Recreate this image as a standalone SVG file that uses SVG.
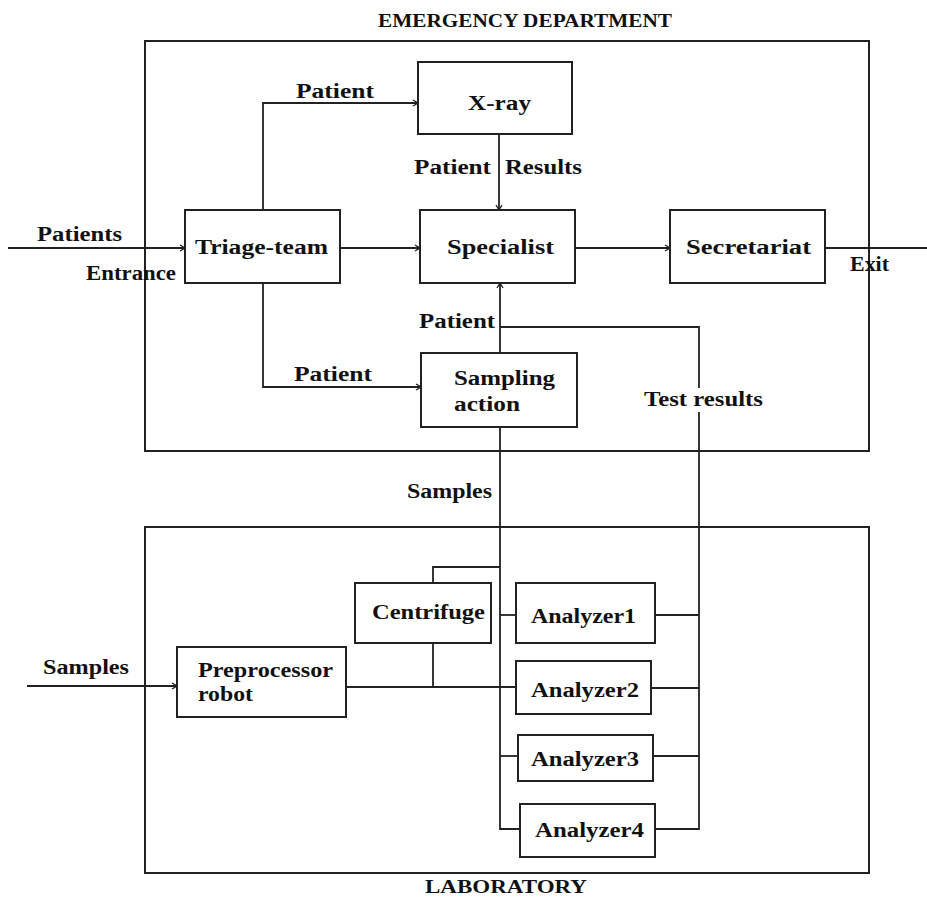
<svg xmlns="http://www.w3.org/2000/svg" width="927" height="897" viewBox="0 0 927 897">
<style>
.box{fill:#fff;stroke:#222;stroke-width:2}
.frame{fill:none;stroke:#222;stroke-width:2}
.ln{fill:none;stroke:#222;stroke-width:1.8}
text{font-family:"Liberation Serif","Times New Roman",serif;font-weight:bold;font-size:20px;fill:#111}
.hd{font-size:18.5px}
</style>
<defs>
<marker id="arr" markerWidth="8" markerHeight="8" refX="6" refY="4" orient="auto" markerUnits="userSpaceOnUse">
<path d="M1,1 L6,4 L1,7" fill="none" stroke="#222" stroke-width="1.4"/>
</marker>
</defs>
<rect width="927" height="897" fill="#fff"/>

<g id="ed-frame">
<rect class="frame" x="145" y="41" width="724" height="410"/>
<text class="hd" x="378" y="27" textLength="294" lengthAdjust="spacingAndGlyphs">EMERGENCY DEPARTMENT</text>
</g>
<g id="lab-frame">
<rect class="frame" x="145" y="527" width="724" height="346"/>
<text class="hd" x="425" y="893" textLength="162" lengthAdjust="spacingAndGlyphs">LABORATORY</text>
</g>

<g id="connectors">
<line class="ln" x1="8" y1="248" x2="185" y2="248" marker-end="url(#arr)"/>
<line class="ln" x1="340" y1="248" x2="420" y2="248" marker-end="url(#arr)"/>
<line class="ln" x1="575" y1="248" x2="670" y2="248" marker-end="url(#arr)"/>
<line class="ln" x1="825" y1="248" x2="927" y2="248"/>
<polyline class="ln" points="263,210 263,103 418,103" marker-end="url(#arr)"/>
<line class="ln" x1="499" y1="134" x2="499" y2="210" marker-end="url(#arr)"/>
<polyline class="ln" points="263,283 263,387 421,387" marker-end="url(#arr)"/>
<line class="ln" x1="500" y1="353" x2="500" y2="283" marker-end="url(#arr)"/>
<polyline class="ln" points="500,327 699,327 699,829 655,829"/>
<polyline class="ln" points="500,427 500,829 520,829"/>
<line class="ln" x1="655" y1="615" x2="699" y2="615"/>
<line class="ln" x1="651" y1="688" x2="699" y2="688"/>
<line class="ln" x1="653" y1="756" x2="699" y2="756"/>
<line class="ln" x1="500" y1="615" x2="516" y2="615"/>
<line class="ln" x1="500" y1="756" x2="518" y2="756"/>
<polyline class="ln" points="433,583 433,567 500,567"/>
<line class="ln" x1="433" y1="643" x2="433" y2="687"/>
<line class="ln" x1="346" y1="687" x2="516" y2="687"/>
<line class="ln" x1="27" y1="686" x2="177" y2="686" marker-end="url(#arr)"/>
<text x="296" y="98" textLength="78" lengthAdjust="spacingAndGlyphs">Patient</text>
<text x="414" y="174" textLength="77" lengthAdjust="spacingAndGlyphs">Patient</text>
<text x="505" y="174" textLength="77" lengthAdjust="spacingAndGlyphs">Results</text>
<text x="37" y="241" textLength="85" lengthAdjust="spacingAndGlyphs">Patients</text>
<text x="86" y="280" textLength="90" lengthAdjust="spacingAndGlyphs">Entrance</text>
<text x="850" y="271" textLength="39" lengthAdjust="spacingAndGlyphs">Exit</text>
<text x="419" y="328" textLength="76" lengthAdjust="spacingAndGlyphs">Patient</text>
<text x="294" y="381" textLength="78" lengthAdjust="spacingAndGlyphs">Patient</text>
<rect x="642" y="388" width="123" height="24" fill="#fff"/>
<text x="644" y="406" textLength="119" lengthAdjust="spacingAndGlyphs">Test results</text>
<text x="407" y="498" textLength="85" lengthAdjust="spacingAndGlyphs">Samples</text>
<text x="43" y="674" textLength="86" lengthAdjust="spacingAndGlyphs">Samples</text>
</g>

<g id="xray">
<rect class="box" x="418" y="62" width="154" height="72"/>
<text x="468" y="110" textLength="63" lengthAdjust="spacingAndGlyphs">X-ray</text>
</g>
<g id="triage">
<rect class="box" x="185" y="210" width="155" height="73"/>
<text x="195" y="254" textLength="133" lengthAdjust="spacingAndGlyphs">Triage-team</text>
</g>
<g id="specialist">
<rect class="box" x="420" y="210" width="155" height="73"/>
<text x="447" y="254" textLength="107" lengthAdjust="spacingAndGlyphs">Specialist</text>
</g>
<g id="secretariat">
<rect class="box" x="670" y="210" width="155" height="73"/>
<text x="686" y="254" textLength="125" lengthAdjust="spacingAndGlyphs">Secretariat</text>
</g>
<g id="sampling">
<rect class="box" x="421" y="353" width="156" height="74"/>
<text x="454" y="385" textLength="101" lengthAdjust="spacingAndGlyphs">Sampling</text>
<text x="454" y="411" textLength="66" lengthAdjust="spacingAndGlyphs">action</text>
</g>
<g id="centrifuge">
<rect class="box" x="355" y="583" width="136" height="60"/>
<text x="372" y="619" textLength="113" lengthAdjust="spacingAndGlyphs">Centrifuge</text>
</g>
<g id="preprocessor">
<rect class="box" x="177" y="647" width="169" height="70"/>
<text x="198" y="677" textLength="135" lengthAdjust="spacingAndGlyphs">Preprocessor</text>
<text x="198" y="701" textLength="55" lengthAdjust="spacingAndGlyphs">robot</text>
</g>
<g id="analyzer1">
<rect class="box" x="516" y="583" width="139" height="60"/>
<text x="531" y="623" textLength="105" lengthAdjust="spacingAndGlyphs">Analyzer1</text>
</g>
<g id="analyzer2">
<rect class="box" x="516" y="661" width="135" height="53"/>
<text x="531" y="697" textLength="108" lengthAdjust="spacingAndGlyphs">Analyzer2</text>
</g>
<g id="analyzer3">
<rect class="box" x="518" y="735" width="135" height="46"/>
<text x="531" y="766" textLength="108" lengthAdjust="spacingAndGlyphs">Analyzer3</text>
</g>
<g id="analyzer4">
<rect class="box" x="520" y="804" width="135" height="53"/>
<text x="535" y="837" textLength="109" lengthAdjust="spacingAndGlyphs">Analyzer4</text>
</g>
</svg>
